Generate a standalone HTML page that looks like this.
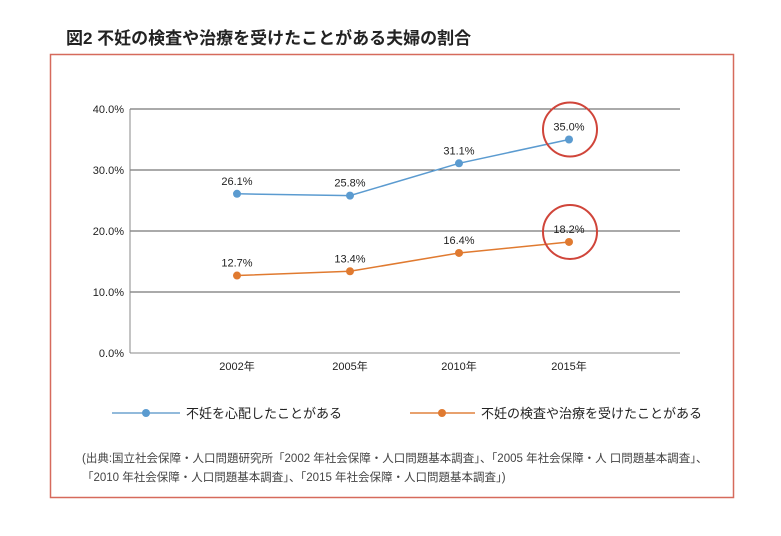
<!DOCTYPE html>
<html><head><meta charset="utf-8"><style>
body{margin:0;background:#fff;width:781px;height:531px;overflow:hidden;font-family:"Liberation Sans","Noto Sans CJK JP",sans-serif;}
svg text{font-family:"Liberation Sans","Noto Sans CJK JP",sans-serif;}
</style></head><body>
<svg width="781" height="531">
<text x="66" y="44" font-size="17" font-weight="bold" fill="#222">図2 不妊の検査や治療を受けたことがある夫婦の割合</text>
<rect x="50.5" y="54.5" width="683" height="443" fill="none" stroke="#d66a5c" stroke-width="1.5"/>
<g id="grid"></g><g id="marks"></g>
<g>
<line x1="112" y1="413" x2="180" y2="413" stroke="#6fa3cf" stroke-width="1.5"/><circle cx="146" cy="413" r="4" fill="#5b9bd0"/>
<text x="186" y="418" font-size="13" fill="#222">不妊を心配したことがある</text>
<line x1="410" y1="413" x2="475" y2="413" stroke="#e0823e" stroke-width="1.5"/><circle cx="442" cy="413" r="4" fill="#e07a30"/>
<text x="481" y="418" font-size="13" fill="#222">不妊の検査や治療を受けたことがある</text>
</g>
<text x="82" y="462" font-size="11.5" fill="#444">(出典:国立社会保障・人口問題研究所「2002 年社会保障・人口問題基本調査」、「2005 年社会保障・人 口問題基本調査」、</text>
<text x="82" y="481" font-size="11.5" fill="#444">「2010 年社会保障・人口問題基本調査」、「2015 年社会保障・人口問題基本調査」)</text>
</svg>
<script>
const categories=["2002年","2005年","2010年","2015年"];
const worried=[26.1,25.8,31.1,35.0];
const treated=[12.7,13.4,16.4,18.2];
const yTicks=[0,10,20,30,40];
const NS="http://www.w3.org/2000/svg";
const x0=130,x1=680,y0=353,y1=109;
const xs=[237,350,459,569];
function X(i){return xs[i];}
function Y(v){return y0-(v/40)*(y0-y1);}
function mk(t,a,p){const e=document.createElementNS(NS,t);for(const k in a)e.setAttribute(k,a[k]);p.appendChild(e);return e;}
const g=document.getElementById('grid'),m=document.getElementById('marks');
yTicks.forEach(v=>{
 const l=mk('line',{x1:x0,x2:x1,y1:Y(v),y2:Y(v),stroke:v===0?'#888':'#555','stroke-width':1},g);
 
 
 const t=mk('text',{x:x0-6,y:Y(v)+4,'font-size':11,'text-anchor':'end',fill:'#222'},g);t.textContent=v.toFixed(1)+'%';
 
 
});
const ax=mk('line',{x1:x0,x2:x0,y1:y1,y2:y0,stroke:'#888'},g);


categories.forEach((c,i)=>{const t=mk('text',{x:X(i),y:370,'font-size':11,'text-anchor':'middle',fill:'#222'},g);t.textContent=c;
 
 });
function series(d,col,name){
 const pl=mk('polyline',{points:d.map((v,i)=>X(i)+','+Y(v)).join(' '),fill:'none',stroke:col,'stroke-width':1.5},m);
 
 
 d.forEach((v,i)=>{const c=mk('circle',{cx:X(i),cy:Y(v),r:4,fill:col},m);
  
  
  const t=mk('text',{x:X(i),y:Y(v)-9,'font-size':11,'text-anchor':'middle',fill:'#222'},m);t.textContent=v.toFixed(1)+'%';
  
  });
 const last=d.length-1;
 const ring=mk('circle',{cx:X(last)+1,cy:Y(d[last])-10,r:27,fill:'none',stroke:'#d0453a','stroke-width':2},m);
 
 
}
series(worried,'#5b9bd0','worried');
series(treated,'#e07a30','treated');
</script>
</body></html>
